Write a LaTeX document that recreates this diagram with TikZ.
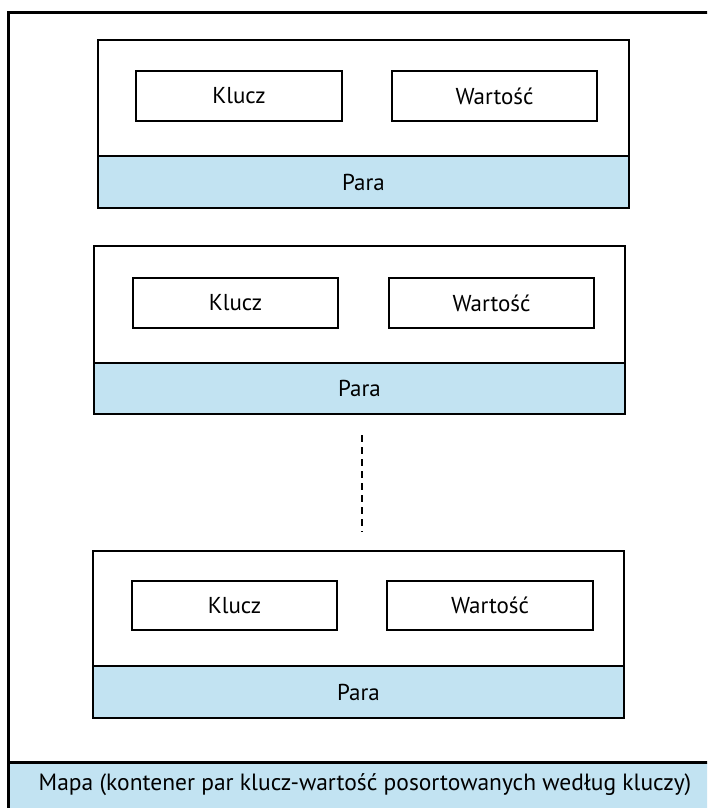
\documentclass[tikz,border=0pt]{standalone}
\usepackage{fontspec}
\setmainfont{PT Sans}
\definecolor{bandblue}{HTML}{C2E3F2}
\begin{document}
\begin{tikzpicture}[x=1pt,y=-1pt,
  boxed/.style={draw, line width=2pt, inner sep=0pt, anchor=north west, font=\fontsize{23}{27}\selectfont},
  pairbox/.style={boxed, fill=white},
  band/.style={boxed, fill=bandblue},
  dots/.style={line width=2pt, dash pattern=on 7pt off 5pt}]
\useasboundingbox (0,0) rectangle (707,808);
\clip (0,0) rectangle (707,808);
\fill[white] (0,0) rectangle (707,808);
% outer container
\node[boxed, line width=3pt, minimum width=740pt, minimum height=840pt] (map) at (7,11) {};
\node[band, line width=3pt, minimum width=740pt, minimum height=60pt] (mapband) at (7,761) {};
\node[font=\fontsize{23.5}{27}\selectfont, anchor=center, inner sep=0pt] (maplabel) at (365,785) {Mapa (kontener par klucz-wartość posortowanych według kluczy)};
% pair 1
\node[pairbox, minimum width=531pt, minimum height=168pt] (p1) at (97,39) {};
\node[band, minimum width=531pt, minimum height=52pt] (p1band) at (97,155) {Para};
\node[pairbox, minimum width=206pt, minimum height=50pt] (k1) at (135,70) {Klucz};
\node[pairbox, minimum width=205pt, minimum height=50pt] (w1) at (391,70) {Wartość};
% pair 2
\node[pairbox, minimum width=531pt, minimum height=168pt] (p2) at (93,245) {};
\node[band, minimum width=531pt, minimum height=51pt] (p2band) at (93,362) {Para};
\node[pairbox, minimum width=205pt, minimum height=50pt] (k2) at (132,277) {Klucz};
\node[pairbox, minimum width=205pt, minimum height=50pt] (w2) at (388,277) {Wartość};
% dots
\coordinate (d1) at (362,435);
\coordinate (d2) at (362,532);
\draw[dots] (d1) -- (d2);
% pair 3
\node[pairbox, minimum width=531pt, minimum height=167pt] (p3) at (92,550) {};
\node[band, minimum width=531pt, minimum height=52pt] (p3band) at (92,665) {Para};
\node[pairbox, minimum width=205pt, minimum height=49pt] (k3) at (131,580) {Klucz};
\node[pairbox, minimum width=206pt, minimum height=49pt] (w3) at (386,580) {Wartość};
\end{tikzpicture}
\end{document}
